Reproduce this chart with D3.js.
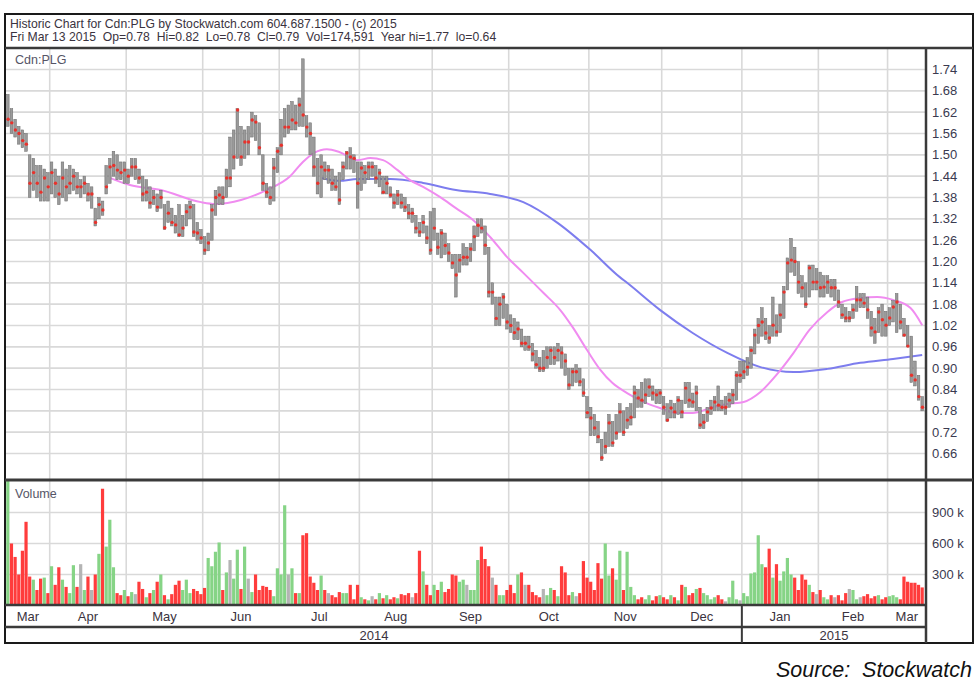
<!DOCTYPE html>
<html><head><meta charset="utf-8">
<script src="https://cdn.jsdelivr.net/npm/d3@7"></script>
<style>
body{margin:0;background:#fff}
svg{display:block}
text{font-family:Arial,"Liberation Sans",sans-serif}
</style>
</head><body>
<svg id="chart" width="980" height="685"></svg>
<script>
// ---------- DATA ----------
const highs = [
1.67,1.63,1.60,1.58,1.57,1.56,1.50,1.49,1.47,1.47,
1.46,1.45,1.48,1.46,1.44,1.48,1.46,1.47,1.46,1.45,
1.43,1.44,1.42,1.41,1.35,1.38,1.37,1.47,1.49,1.51,
1.50,1.48,1.48,1.46,1.49,1.49,1.46,1.44,1.43,1.41,
1.40,1.39,1.40,1.36,1.37,1.35,1.33,1.36,1.33,1.36,
1.37,1.36,1.31,1.29,1.27,1.28,1.36,1.40,1.41,1.41,
1.46,1.55,1.57,1.63,1.58,1.57,1.58,1.62,1.61,1.59,
1.50,1.42,1.41,1.49,1.52,1.60,1.63,1.64,1.65,1.64,
1.66,1.77,1.61,1.59,1.55,1.49,1.50,1.48,1.47,1.46,
1.44,1.45,1.48,1.51,1.52,1.50,1.48,1.48,1.47,1.48,
1.48,1.47,1.46,1.44,1.44,1.41,1.39,1.40,1.39,1.38,
1.36,1.35,1.33,1.31,1.33,1.30,1.34,1.35,1.28,1.29,
1.28,1.25,1.22,1.22,1.22,1.25,1.24,1.25,1.30,1.32,
1.32,1.30,1.24,1.14,1.10,1.10,1.11,1.08,1.05,1.04,
1.03,1.01,0.99,0.99,0.97,0.95,0.93,0.95,0.96,0.96,
0.96,0.97,0.96,0.94,0.90,0.90,0.91,0.90,0.87,0.82,
0.79,0.77,0.75,0.70,0.72,0.77,0.75,0.77,0.80,0.78,
0.79,0.80,0.85,0.84,0.86,0.87,0.87,0.85,0.84,0.84,
0.82,0.80,0.81,0.80,0.82,0.81,0.86,0.86,0.83,0.85,
0.79,0.77,0.79,0.81,0.82,0.85,0.81,0.82,0.83,0.84,
0.89,0.92,0.92,0.93,0.96,1.01,1.04,1.07,1.04,1.02,
1.10,1.05,1.08,1.13,1.21,1.265,1.24,1.20,1.16,1.14,
1.19,1.19,1.18,1.17,1.16,1.16,1.15,1.15,1.12,1.08,
1.07,1.06,1.08,1.13,1.11,1.11,1.10,1.06,1.04,1.07,
1.08,1.06,1.07,1.09,1.11,1.08,1.04,1.02,0.99,0.92,
0.88,0.82];
const lows = [
1.58,1.56,1.55,1.53,1.52,1.51,1.38,1.40,1.38,1.37,
1.37,1.37,1.39,1.38,1.36,1.38,1.37,1.39,1.40,1.39,
1.38,1.39,1.37,1.35,1.30,1.32,1.33,1.39,1.42,1.44,
1.43,1.43,1.42,1.42,1.44,1.43,1.42,1.37,1.37,1.35,
1.36,1.34,1.35,1.29,1.31,1.30,1.28,1.27,1.27,1.30,
1.32,1.27,1.26,1.25,1.22,1.23,1.26,1.33,1.36,1.36,
1.38,1.41,1.46,1.49,1.47,1.49,1.50,1.55,1.54,1.50,
1.40,1.38,1.36,1.37,1.45,1.50,1.55,1.56,1.57,1.57,
1.58,1.58,1.55,1.50,1.44,1.39,1.38,1.43,1.42,1.40,
1.40,1.36,1.43,1.46,1.46,1.45,1.35,1.40,1.42,1.43,
1.44,1.42,1.41,1.39,1.39,1.38,1.35,1.36,1.35,1.34,
1.32,1.31,1.28,1.27,1.28,1.25,1.22,1.26,1.22,1.21,
1.22,1.20,1.18,1.10,1.17,1.19,1.19,1.20,1.23,1.27,
1.28,1.22,1.10,1.08,1.02,1.02,1.04,1.01,1.00,0.98,
0.98,0.96,0.95,0.95,0.92,0.90,0.89,0.89,0.90,0.91,
0.91,0.92,0.90,0.88,0.84,0.85,0.86,0.85,0.82,0.76,
0.71,0.71,0.69,0.64,0.66,0.68,0.68,0.70,0.72,0.71,
0.73,0.74,0.76,0.79,0.79,0.80,0.82,0.81,0.80,0.80,
0.77,0.75,0.76,0.76,0.77,0.76,0.80,0.79,0.79,0.78,
0.73,0.73,0.75,0.77,0.78,0.78,0.78,0.77,0.79,0.80,
0.81,0.86,0.87,0.88,0.90,0.94,0.97,0.99,0.98,0.97,
0.99,0.99,1.00,1.04,1.12,1.17,1.16,1.11,1.10,1.07,
1.10,1.12,1.12,1.10,1.10,1.11,1.10,1.09,1.07,1.04,
1.03,1.03,1.04,1.06,1.07,1.07,1.04,0.99,0.97,1.00,
0.99,0.99,1.02,1.03,1.00,1.01,0.99,0.96,0.86,0.85,
0.81,0.78];
const closes = [
1.60,1.59,1.57,1.56,1.54,1.53,1.42,1.45,1.42,1.395,
1.435,1.41,1.45,1.42,1.39,1.435,1.41,1.42,1.44,1.41,
1.41,1.42,1.39,1.39,1.31,1.36,1.345,1.41,1.466,1.47,
1.457,1.45,1.457,1.44,1.466,1.466,1.435,1.39,1.395,1.365,
1.38,1.353,1.38,1.295,1.336,1.31,1.303,1.275,1.294,1.34,
1.353,1.283,1.28,1.266,1.232,1.252,1.345,1.38,1.387,1.38,
1.435,1.435,1.494,1.626,1.494,1.536,1.536,1.598,1.592,1.52,
1.42,1.395,1.38,1.463,1.51,1.527,1.578,1.578,1.598,1.59,
1.64,1.612,1.578,1.56,1.466,1.42,1.466,1.457,1.457,1.42,
1.41,1.373,1.466,1.505,1.494,1.49,1.42,1.463,1.45,1.466,
1.466,1.435,1.449,1.395,1.42,1.387,1.365,1.387,1.365,1.353,
1.336,1.336,1.294,1.283,1.31,1.266,1.232,1.294,1.24,1.28,
1.245,1.224,1.196,1.162,1.204,1.212,1.212,1.235,1.27,1.302,
1.294,1.246,1.114,1.114,1.04,1.08,1.10,1.03,1.02,1.00,
1.01,0.97,0.97,0.96,0.94,0.91,0.90,0.90,0.93,0.95,
0.93,0.95,0.943,0.92,0.853,0.89,0.89,0.862,0.83,0.775,
0.76,0.732,0.707,0.648,0.68,0.746,0.69,0.718,0.777,0.72,
0.754,0.762,0.83,0.816,0.81,0.825,0.847,0.83,0.825,0.83,
0.79,0.754,0.788,0.777,0.81,0.777,0.844,0.81,0.805,0.83,
0.74,0.748,0.777,0.788,0.805,0.796,0.79,0.79,0.81,0.825,
0.88,0.88,0.89,0.903,0.95,0.993,1.02,1.03,0.999,0.985,
1.021,1.002,1.05,1.114,1.196,1.204,1.20,1.142,1.126,1.08,
1.182,1.142,1.142,1.126,1.128,1.142,1.126,1.126,1.086,1.05,
1.041,1.041,1.064,1.092,1.092,1.083,1.064,1.013,1.002,1.058,
1.036,1.021,1.041,1.072,1.086,1.03,0.993,0.962,0.88,0.867,
0.82,0.79];
// volume in thousands of shares
const volumes = [
1250,600,470,300,530,810,280,250,150,260,
270,120,380,200,370,250,180,120,390,180,
400,150,280,150,300,500,1130,570,830,370,
120,100,150,90,130,110,230,160,80,120,
150,230,300,100,60,110,200,240,150,250,
120,160,140,110,170,460,380,520,610,150,
320,440,260,540,160,570,260,130,300,150,
190,180,150,90,360,300,970,300,360,120,
120,680,700,280,220,150,290,150,120,100,
80,130,120,120,200,60,200,80,60,50,
90,60,120,70,100,60,80,70,110,100,
120,80,120,530,330,200,100,200,150,230,
130,160,300,290,230,250,200,150,150,440,
570,450,380,270,200,100,100,150,200,120,
300,320,200,200,130,100,80,160,100,170,
150,90,380,320,100,130,90,120,430,270,
230,150,410,260,600,290,360,250,530,150,
520,180,100,60,80,60,100,50,90,100,
80,60,100,80,50,200,180,100,120,160,
170,120,100,60,80,100,60,40,80,240,
60,50,120,90,310,320,680,400,370,550,
270,400,240,330,460,300,270,150,300,250,
200,130,110,150,80,60,100,80,100,50,
120,160,150,60,80,90,110,70,90,100,
60,80,90,100,80,60,280,230,220,220,
200,175];
// moving averages read at sample days (day index, price)
const pinkDay = [28,33.5,42,53,57,64,71,77.5,81,84,87.6,91,96,99.5,103,107,110.4,114,118.7,123,127.7,132.4,137,141.5,147,151.6,155,159,162.6,166,170,174.5,179,183.8,188,192.9,197.5,202,206.6,211,215.7,220,225,229,234,238.7,243,247.8,251];
const pinkVal = [1.435,1.415,1.401,1.367,1.362,1.373,1.401,1.44,1.48,1.505,1.516,1.508,1.485,1.491,1.485,1.457,1.429,1.41,1.381,1.35,1.317,1.269,1.213,1.168,1.112,1.064,1.016,0.951,0.896,0.858,0.83,0.805,0.788,0.774,0.774,0.788,0.799,0.805,0.833,0.881,0.943,1.007,1.058,1.086,1.097,1.10,1.092,1.069,1.021];
const blueDay = [86,91,96,105,114,123,132.4,141.5,151,160,168,170,179,188,197.5,206.6,215.7,225,234,243,251];
const blueVal = [1.435,1.427,1.432,1.432,1.421,1.401,1.39,1.367,1.308,1.232,1.156,1.14,1.064,0.999,0.943,0.903,0.889,0.898,0.915,0.926,0.937];

const priceTicks = [1.74,1.68,1.62,1.56,1.50,1.44,1.38,1.32,1.26,1.20,1.14,1.08,1.02,0.96,0.90,0.84,0.78,0.72,0.66];
const volumeTicks = [300,600,900];
const monthLabels = ["Mar","Apr","May","Jun","Jul","Aug","Sep","Oct","Nov","Dec","Jan","Feb","Mar"];
const monthStartDay = [0,12,33,54,75,97,117,138,160,180,202,223,242];
const yearLabels = ["2014","2015"];
const yearStartDay = [0,202];
const headerLine1 = "Historic Chart for Cdn:PLG by Stockwatch.com 604.687.1500 - (c) 2015";
const headerLine2 = "Fri Mar 13 2015  Op=0.78  Hi=0.82  Lo=0.78  Cl=0.79  Vol=174,591  Year hi=1.77  lo=0.64";
const symbolLabel = "Cdn:PLG";
const volumeLabel = "Volume";
const sourceLabel = "Source:  Stockwatch";

// ---------- LAYOUT ----------
const nDays = closes.length;
const L = 5, R = 973, T = 14, B = 643;
const plotL = 6, plotR = 926;
const headB = 48, priceB = 480, volB = 605, monthB = 627;

const svg = d3.select("#chart");
const x = d3.scaleLinear().domain([-0.5, nDays - 0.5]).range([plotL, 924]);
const y = d3.scaleLinear().domain([0.66, 1.74]).range([453.5, 69.5]);
const yv = d3.scaleLinear().domain([0, 1200]).range([605.5, 481.5]);

const defs = svg.append("defs");
defs.append("clipPath").attr("id","cp").append("rect")
  .attr("x",plotL).attr("y",headB).attr("width",plotR-plotL).attr("height",priceB-headB);
defs.append("clipPath").attr("id","cv").append("rect")
  .attr("x",plotL).attr("y",priceB+1).attr("width",plotR-plotL).attr("height",volB-priceB-1);

const gridColor = "#d9d9d9";
svg.append("g").selectAll("line").data(priceTicks).join("line")
  .attr("x1",plotL).attr("x2",plotR).attr("y1",d=>y(d)).attr("y2",d=>y(d))
  .attr("stroke",gridColor).attr("stroke-width",1.6);
svg.append("g").selectAll("line").data(volumeTicks).join("line")
  .attr("x1",plotL).attr("x2",plotR).attr("y1",d=>yv(d)).attr("y2",d=>yv(d))
  .attr("stroke",gridColor).attr("stroke-width",1.6);
const bounds = monthStartDay.slice(1);
svg.append("g").selectAll("line").data(bounds).join("line")
  .attr("x1",d=>x(d-0.5)).attr("x2",d=>x(d-0.5)).attr("y1",headB).attr("y2",volB)
  .attr("stroke",gridColor).attr("stroke-width",1.6);

// moving averages
const mkLine = (days, vals) => d3.line().x((d,i)=>x(days[i])).y(d=>y(d)).curve(d3.curveMonotoneX)(vals);
const pg = svg.append("g").attr("clip-path","url(#cp)");
pg.append("path").attr("d",mkLine(blueDay,blueVal)).attr("fill","none").attr("stroke","#7d7dee").attr("stroke-width",2);
pg.append("path").attr("d",mkLine(pinkDay,pinkVal)).attr("fill","none").attr("stroke","#f08cf0").attr("stroke-width",2);

// HL bars
const bw = 2.6;
pg.append("g").selectAll("rect").data(closes).join("rect")
  .attr("x",(d,i)=>x(i)-bw/2).attr("width",bw)
  .attr("y",(d,i)=>y(highs[i])).attr("height",(d,i)=>Math.max(1,y(lows[i])-y(highs[i])))
  .attr("fill","#9a9a9a").attr("stroke","#6a6a6a").attr("stroke-width",0.5);
pg.append("g").selectAll("circle").data(closes).join("circle")
  .attr("cx",(d,i)=>x(i)+0.3).attr("cy",d=>y(d)).attr("r",1.7)
  .attr("fill","#e8322c");

// volume bars
const vg = svg.append("g").attr("clip-path","url(#cv)");
vg.selectAll("rect").data(volumes).join("rect")
  .attr("x",(d,i)=>x(i)-1.6).attr("width",3.2)
  .attr("y",d=>yv(d)).attr("height",d=>yv(0)-yv(d))
  .attr("fill",(d,i)=>{
    if(i===0) return "#86d486";
    const c = closes[i]-closes[i-1];
    return c>0 ? "#86d486" : (c<0 ? "#ff3c3c" : "#b4b4b4");
  });

// ---------- FRAME ----------
const frame = svg.append("g").attr("fill","none");
frame.append("rect").attr("x",L).attr("y",T).attr("width",R-L).attr("height",B-T)
  .attr("stroke","#1a1a1a").attr("stroke-width",2);
const hline = (x1,x2,yy,w,c)=>frame.append("line").attr("x1",x1).attr("x2",x2).attr("y1",yy).attr("y2",yy).attr("stroke",c||"#3a3a3a").attr("stroke-width",w);
const vline = (xx,y1,y2,w,c)=>frame.append("line").attr("x1",xx).attr("x2",xx).attr("y1",y1).attr("y2",y2).attr("stroke",c||"#3a3a3a").attr("stroke-width",w);
hline(L,R,headB,2.5);
hline(L,R,priceB,3);
hline(L,plotR,volB,2.5);
hline(L,plotR,monthB,2.5);
vline(plotR,headB,B,2.5);
vline(x(yearStartDay[1]-0.5),volB,B,2);

// ---------- TEXT ----------
const tc = "#3a3340";
svg.append("text").attr("x",10).attr("y",28).attr("font-size",12.2).attr("fill",tc).text(headerLine1);
svg.append("text").attr("x",10).attr("y",41).attr("font-size",12.2).attr("fill",tc).style("white-space","pre").text(headerLine2);
svg.append("text").attr("x",15).attr("y",64).attr("font-size",12.5).attr("fill","#555566").text(symbolLabel);
svg.append("text").attr("x",15).attr("y",498).attr("font-size",12.5).attr("fill","#555566").text(volumeLabel);

svg.append("g").selectAll("text").data(priceTicks).join("text")
  .attr("x",932).attr("y",d=>y(d)+4.5).attr("font-size",13).attr("fill","#3a3a50")
  .text(d=>d3.format(".2f")(d));
svg.append("g").selectAll("text").data(volumeTicks).join("text")
  .attr("x",932).attr("y",d=>yv(d)+4.5).attr("font-size",13).attr("fill","#3a3a50")
  .text(d=>d+" k");

const monthEdges = monthStartDay.map((d,i)=> i===0 ? plotL : x(d-0.5)).concat([plotR]);
svg.append("g").selectAll("text").data(monthLabels).join("text")
  .attr("x",(d,i)=>(monthEdges[i]+monthEdges[i+1])/2).attr("y",621)
  .attr("text-anchor","middle").attr("font-size",13).attr("fill",tc).text(d=>d);
const yearEdges = yearStartDay.map((d,i)=> i===0 ? plotL : x(d-0.5)).concat([plotR]);
svg.append("g").selectAll("text").data(yearLabels).join("text")
  .attr("x",(d,i)=>(yearEdges[i]+yearEdges[i+1])/2).attr("y",640)
  .attr("text-anchor","middle").attr("font-size",13).attr("fill",tc).text(d=>d);

svg.append("text").attr("x",972).attr("y",677).attr("text-anchor","end")
  .attr("font-size",21.5).attr("font-style","italic").attr("fill","#111")
  .style("white-space","pre").text(sourceLabel);
</script>
</body></html>
